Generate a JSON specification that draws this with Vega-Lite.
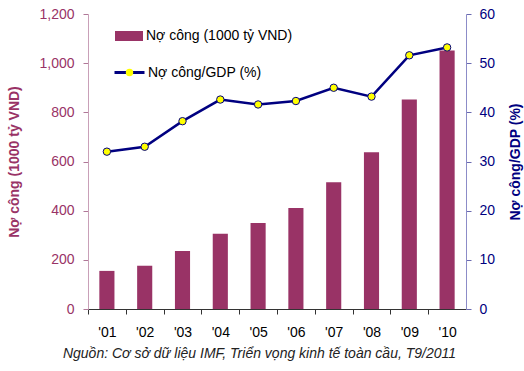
{
  "$schema": "https://vega.github.io/schema/vega-lite/v6.json",
  "width": 378,
  "height": 295,
  "autosize": {"type": "none"},
  "padding": {"left": 88, "top": 14, "right": 58, "bottom": 62},
  "config": {
    "view": {"stroke": null},
    "font": "Liberation Sans",
    "axis": {"grid": false}
  },
  "data": {
    "values": [
      {"year": "'01", "debt": 155, "ratio": 32.0, "s1": "Nợ công (1000 tỷ VND)", "s2": "Nợ công/GDP (%)", "s3": "pt"},
      {"year": "'02", "debt": 176, "ratio": 33.0, "s1": "Nợ công (1000 tỷ VND)", "s2": "Nợ công/GDP (%)", "s3": "pt"},
      {"year": "'03", "debt": 236, "ratio": 38.2, "s1": "Nợ công (1000 tỷ VND)", "s2": "Nợ công/GDP (%)", "s3": "pt"},
      {"year": "'04", "debt": 306, "ratio": 42.6, "s1": "Nợ công (1000 tỷ VND)", "s2": "Nợ công/GDP (%)", "s3": "pt"},
      {"year": "'05", "debt": 350, "ratio": 41.6, "s1": "Nợ công (1000 tỷ VND)", "s2": "Nợ công/GDP (%)", "s3": "pt"},
      {"year": "'06", "debt": 411, "ratio": 42.3, "s1": "Nợ công (1000 tỷ VND)", "s2": "Nợ công/GDP (%)", "s3": "pt"},
      {"year": "'07", "debt": 516, "ratio": 45.0, "s1": "Nợ công (1000 tỷ VND)", "s2": "Nợ công/GDP (%)", "s3": "pt"},
      {"year": "'08", "debt": 638, "ratio": 43.2, "s1": "Nợ công (1000 tỷ VND)", "s2": "Nợ công/GDP (%)", "s3": "pt"},
      {"year": "'09", "debt": 852, "ratio": 51.6, "s1": "Nợ công (1000 tỷ VND)", "s2": "Nợ công/GDP (%)", "s3": "pt"},
      {"year": "'10", "debt": 1052, "ratio": 53.2, "s1": "Nợ công (1000 tỷ VND)", "s2": "Nợ công/GDP (%)", "s3": "pt"}
    ]
  },
  "encoding": {
    "x": {
      "field": "year",
      "type": "ordinal",
      "sort": null,
      "scale": {"paddingInner": 0.6, "paddingOuter": 0.3},
      "axis": {
        "labelAngle": 0,
        "labelFontSize": 14,
        "labelColor": "#000000",
        "labelPadding": 11,
        "labelOffset": 18.9,
        "domainColor": "#333333",
        "tickColor": "#333333",
        "tickSize": 5,
        "tickOffset": -18.9,
        "title": "Nguồn: Cơ sở dữ liệu IMF, Triển vọng kinh tế toàn cầu, T9/2011",
        "titleFontStyle": "italic",
        "titleFontWeight": "normal",
        "titleFontSize": 14,
        "titleColor": "#222222",
        "titleX": 171,
        "titlePadding": 7
      }
    }
  },
  "layer": [
    {
      "mark": {"type": "bar"},
      "encoding": {
        "y": {
          "field": "debt",
          "type": "quantitative",
          "scale": {"domain": [0, 1200]},
          "axis": {
            "orient": "left",
            "values": [0, 200, 400, 600, 800, 1000, 1200],
            "format": ",.0f",
            "labelColor": "#993366",
            "labelFontSize": 14,
            "labelPadding": 9,
            "tickSize": 5,
            "tickColor": "#B07898",
            "domainColor": "#C9A0B8",
            "title": "Nợ công (1000 tỷ VND)",
            "titleColor": "#993366",
            "titleFontSize": 14,
            "titleFontWeight": "bold",
            "titlePadding": 17
          }
        },
        "fill": {
          "field": "s1",
          "type": "nominal",
          "scale": {"range": ["#993366"]},
          "legend": {
            "orient": "none",
            "legendX": 27,
            "legendY": 8,
            "title": null,
            "padding": 0,
            "symbolType": "M-1,-0.357H1V0.357H-1Z",
            "symbolSize": 784,
            "symbolStrokeWidth": 0,
            "labelFontSize": 14,
            "labelColor": "#000000",
            "labelOffset": 3
          }
        }
      }
    },
    {
      "encoding": {
        "y": {
          "field": "ratio",
          "type": "quantitative",
          "scale": {"domain": [0, 60]},
          "axis": {
            "orient": "right",
            "values": [0, 10, 20, 30, 40, 50, 60],
            "labelColor": "#000080",
            "labelFontSize": 14,
            "labelPadding": 8,
            "tickSize": 5,
            "tickColor": "#6A6AB0",
            "domainColor": "#8C8CC8",
            "title": "Nợ công/GDP (%)",
            "titleColor": "#000080",
            "titleFontSize": 14,
            "titleFontWeight": "bold",
            "titleAngle": 270,
            "titlePadding": 28
          }
        }
      },
      "layer": [
        {
          "mark": {"type": "line", "strokeWidth": 2.5},
          "encoding": {
            "stroke": {
              "field": "s2",
              "type": "nominal",
              "scale": {"range": ["#000080"]},
              "legend": {
                "orient": "none",
                "legendX": 25,
                "legendY": 42,
                "title": null,
                "padding": 0,
                "symbolType": "stroke",
                "symbolSize": 900,
                "symbolStrokeWidth": 3,
                "labelFontSize": 14,
                "labelColor": "#000000",
                "labelOffset": 2
              }
            }
          }
        },
        {
          "mark": {"type": "point", "filled": true, "fill": "#FFFF00", "stroke": "#000080", "strokeWidth": 1, "size": 55, "opacity": 1, "shape": "circle"},
          "encoding": {
            "shape": {
              "field": "s3",
              "type": "nominal",
              "scale": {"range": ["circle"]},
              "legend": {
                "orient": "none",
                "legendX": 36.5,
                "legendY": 53.5,
                "title": null,
                "padding": 0,
                "symbolType": "circle",
                "symbolSize": 55,
                "symbolFillColor": "#FFFF00",
                "symbolStrokeColor": "#000080",
                "symbolStrokeWidth": 1,
                "labelExpr": "''"
              }
            }
          }
        }
      ]
    }
  ],
  "resolve": {"scale": {"y": "independent"}}
}
